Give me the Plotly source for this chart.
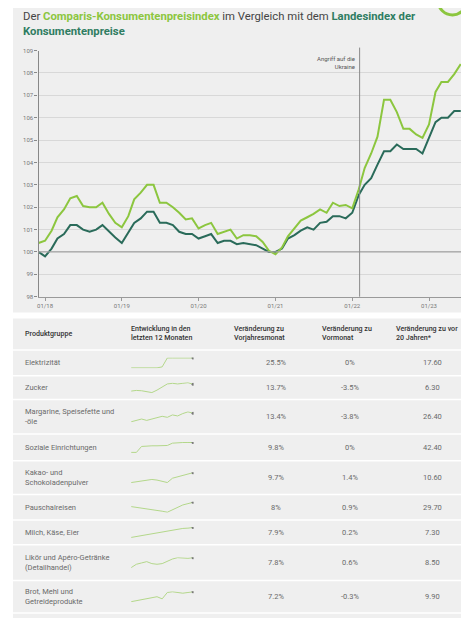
import plotly.graph_objects as go
import pandas as pd

# page is 469x619; the html body adds an 8px margin, so the figure is drawn 8px in
PAGE_W, PAGE_H = 469, 619
OFF = 8
W, H = PAGE_W - OFF, PAGE_H - OFF

# ---------------- data ----------------
months = pd.date_range("2017-12-01", periods=67, freq="MS")

comparis = [100.4, 100.5, 100.95, 101.55, 101.9, 102.4, 102.5, 102.05, 102.0, 102.0,
            102.2, 101.7, 101.3, 101.1, 101.6, 102.35, 102.65, 103.0, 103.0, 102.2,
            102.2, 102.0, 101.75, 101.45, 101.5, 101.05, 101.2, 101.3, 100.8, 100.9,
            101.0, 100.6, 100.75, 100.75, 100.7, 100.45, 100.05, 99.9, 100.2, 100.7,
            101.05, 101.4, 101.55, 101.7, 101.9, 101.75, 102.2, 102.05, 102.1, 101.95,
            102.8, 103.75, 104.4, 105.15, 106.8, 106.8, 106.25, 105.5, 105.5, 105.25,
            105.1, 105.7, 107.15, 107.6, 107.6, 107.95, 108.4]

landesindex = [100.0, 99.8, 100.15, 100.6, 100.8, 101.2, 101.2, 101.0, 100.9, 101.0,
               101.2, 100.9, 100.65, 100.4, 100.85, 101.3, 101.5, 101.8, 101.8, 101.3,
               101.3, 101.2, 100.9, 100.8, 100.8, 100.6, 100.7, 100.8, 100.4, 100.5,
               100.5, 100.35, 100.4, 100.35, 100.3, 100.15, 100.0, 100.0, 100.15, 100.6,
               100.75, 100.95, 101.1, 101.0, 101.3, 101.35, 101.6, 101.6, 101.5, 101.75,
               102.55, 103.0, 103.3, 103.9, 104.5, 104.5, 104.8, 104.6, 104.6, 104.6,
               104.4, 105.1, 105.8, 106.0, 106.0, 106.3, 106.3]

y_ticks = list(range(98, 110))
x_tick_dates = ["2018-01-01", "2019-01-01", "2020-01-01", "2021-01-01", "2022-01-01", "2023-01-01"]
x_tick_labels = ["01/18", "01/19", "01/20", "01/21", "01/22", "01/23"]
event_date = "2022-02-05"
event_label = "Angriff auf die<br>Ukraine"

header = ["Produktgruppe", "Entwicklung in den<br>letzten 12 Monaten",
          "Veränderung zu<br>Vorjahresmonat", "Veränderung zu<br>Vormonat",
          "Veränderung zu vor<br>20 Jahren*"]
products = ["Elektrizität", "Zucker", "Margarine, Speisefette und<br>-öle",
            "Soziale Einrichtungen", "Kakao- und<br>Schokoladenpulver", "Pauschalreisen",
            "Milch, Käse, Eier", "Likör und Apéro-Getränke<br>(Detailhandel)",
            "Brot, Mehl und<br>Getreideprodukte"]
change_yoy = ["25.5%", "13.7%", "13.4%", "9.8%", "9.7%", "8%", "7.9%", "7.8%", "7.2%"]
change_mom = ["0%", "-3.5%", "-3.8%", "0%", "1.4%", "0.9%", "0.2%", "0.6%", "-0.3%"]
change_20y = ["17.60", "6.30", "26.40", "42.40", "10.60", "29.70", "7.30", "8.50", "9.90"]

spark_elektrizitaet = [0, 0, 0, 0, 0, 0, 3, 30, 30, 30, 30, 30, 30]
spark_zucker = [5, 7, 6, 2, 0, 8, 18, 28, 30, 28, 30, 32, 27]
spark_margarine = [0, 5, 8, 4, 7, 12, 16, 13, 20, 17, 24, 29, 25]
spark_soziale = [0, 0, 18, 20, 20, 20, 20, 21, 28, 30, 30, 30, 30]
spark_kakao = [0, 2, 4, 7, 10, 8, 5, 0, 14, 18, 22, 28, 32]
spark_pauschal = [17, 15, 12, 10, 7, 5, 3, 0, 8, 16, 22, 26, 30]
spark_milch = [0, 3, 6, 9, 12, 15, 18, 21, 25, 27, 29, 30, 32]
spark_likoer = [0, 10, 14, 18, 12, 10, 12, 20, 26, 30, 28, 28, 30]
spark_brot = [0, 3, 6, 9, 12, 14, 8, 26, 28, 27, 24, 26, 28]
sparks = [spark_elektrizitaet, spark_zucker, spark_margarine, spark_soziale, spark_kakao,
          spark_pauschal, spark_milch, spark_likoer, spark_brot]
spark_months = list(range(13))

# ---------------- layout helpers (page pixel -> paper) ----------------
def px(x):
    return (x - OFF) / W

def py(y):
    return 1 - (y - OFF) / H

LIGHT = "#8cc63f"
DARK = "#2a6b5a"
TEAL = "#2f7d62"
PANEL = "#efefef"
FONT = "Roboto"

fig = go.Figure()

fig.add_trace(go.Scatter(x=months, y=landesindex, mode="lines",
                         line=dict(color=DARK, width=2), showlegend=False, hoverinfo="skip"))
fig.add_trace(go.Scatter(x=months, y=comparis, mode="lines",
                         line=dict(color=LIGHT, width=2), showlegend=False, hoverinfo="skip"))

shapes = [
    dict(type="rect", xref="paper", yref="paper", x0=px(12), x1=px(470), y0=py(312), y1=py(-2),
         fillcolor=PANEL, line=dict(width=0), layer="below"),
    dict(type="rect", xref="paper", yref="paper", x0=px(12), x1=px(470), y0=py(621), y1=py(318),
         fillcolor=PANEL, line=dict(width=0), layer="below"),
    dict(type="circle", xref="paper", yref="paper", x0=px(438), x1=px(467), y0=py(11), y1=py(-18),
         line=dict(color=LIGHT, width=3)),
    dict(type="line", xref="x domain", yref="y", x0=0, x1=1, y0=100, y1=100,
         line=dict(color="#a3a3a3", width=1.2)),
    dict(type="line", xref="x", yref="paper", x0=event_date, x1=event_date, y0=py(296), y1=py(44),
         line=dict(color="#8a8a8a", width=1)),
]

# table row separators
row_lines = [350, 376, 400, 435, 462, 496, 522, 547, 583, 616]
for yl in row_lines:
    shapes.append(dict(type="line", xref="paper", yref="paper", x0=px(12), x1=px(470),
                       y0=py(yl), y1=py(yl), line=dict(color="#ffffff", width=1.5)))

annotations = []
title1 = ("Der <span style='color:%s'><b>Comparis-Konsumentenpreisindex</b></span> im Vergleich mit dem "
          "<span style='color:%s'><b>Landesindex der</b></span>" % (LIGHT, TEAL))
annotations.append(dict(text=title1, x=px(20), y=py(13), xref="paper", yref="paper",
                        xanchor="left", yanchor="middle", showarrow=False,
                        font=dict(family=FONT, size=11.3, color="#444444")))
annotations.append(dict(text="<b>Konsumentenpreise</b>", x=px(20), y=py(28), xref="paper", yref="paper",
                        xanchor="left", yanchor="middle", showarrow=False,
                        font=dict(family=FONT, size=11.3, color=TEAL)))
annotations.append(dict(text=event_label, x=event_date, y=py(49), xref="x", yref="paper",
                        xanchor="right", yanchor="top", align="right", showarrow=False, xshift=-3,
                        font=dict(family=FONT, size=6, color="#555555")))

# header
header_x = [22, 128, 231, 320, 394]
for hx, ht in zip(header_x, header):
    annotations.append(dict(text=ht, x=px(hx), y=py(333), xref="paper", yref="paper",
                            xanchor="left", yanchor="middle", align="left", showarrow=False,
                            font=dict(family=FONT, size=7.1, color="#333333", weight=500)))

row_centers = [(a + b) / 2 for a, b in zip(row_lines[:-1], row_lines[1:])]
for i, yc in enumerate(row_centers):
    annotations.append(dict(text=products[i], x=px(22), y=py(yc), xref="paper", yref="paper",
                            xanchor="left", yanchor="middle", align="left", showarrow=False,
                            font=dict(family=FONT, size=7.5, color="#6a6a6a")))
    for cx, vals in ((276, change_yoy), (350, change_mom), (432, change_20y)):
        annotations.append(dict(text=vals[i], x=px(cx), y=py(yc), xref="paper", yref="paper",
                                xanchor="center", yanchor="middle", showarrow=False,
                                font=dict(family=FONT, size=7.5, color="#6a6a6a")))

# sparklines
layout_axes = {}
for i, s in enumerate(sparks):
    k = i + 2
    yc = row_centers[i]
    lo, hi = min(s), max(s)
    pad = (hi - lo) * 0.05
    fig.add_trace(go.Scatter(x=spark_months, y=s, mode="lines", xaxis="x%d" % k, yaxis="y%d" % k,
                             line=dict(color="#b3d78a", width=1), showlegend=False, hoverinfo="skip"))
    fig.add_trace(go.Scatter(x=spark_months[-1:], y=s[-1:], mode="markers", xaxis="x%d" % k,
                             yaxis="y%d" % k, marker=dict(color="#777777", size=3),
                             showlegend=False, hoverinfo="skip"))
    layout_axes["xaxis%d" % k] = dict(domain=[px(130), px(193)], range=[-0.1, 12.1], visible=False,
                                      anchor="y%d" % k, fixedrange=True)
    layout_axes["yaxis%d" % k] = dict(domain=[py(yc + 5.5), py(yc - 5.5)], range=[lo - pad, hi + pad],
                                      visible=False, anchor="x%d" % k, fixedrange=True)

fig.update_layout(
    width=W, height=H,
    margin=dict(l=0, r=0, t=0, b=0),
    paper_bgcolor="#ffffff",
    plot_bgcolor="rgba(0,0,0,0)",
    showlegend=False,
    shapes=shapes,
    annotations=annotations,
    xaxis=dict(domain=[px(37.6), px(462)], type="date", range=["2017-12-01", "2023-06-07"],
               tickvals=x_tick_dates, ticktext=x_tick_labels, showgrid=False, zeroline=False,
               showline=True, linecolor="#9a9a9a", linewidth=1.2, ticks="outside", ticklen=3,
               tickcolor="#9a9a9a", tickfont=dict(family=FONT, size=6, color="#777777"),
               anchor="y"),
    yaxis=dict(domain=[py(296), py(47)], range=[98, 109], tickvals=y_ticks,
               showgrid=True, gridcolor="#d8d8d8", gridwidth=1, zeroline=False,
               showline=True, linecolor="#888888", linewidth=1.2, ticks="outside", ticklen=3,
               tickcolor="#888888", tickfont=dict(family=FONT, size=6, color="#777777"),
               anchor="x"),
    **layout_axes,
)

fig.write_html("out.html")
